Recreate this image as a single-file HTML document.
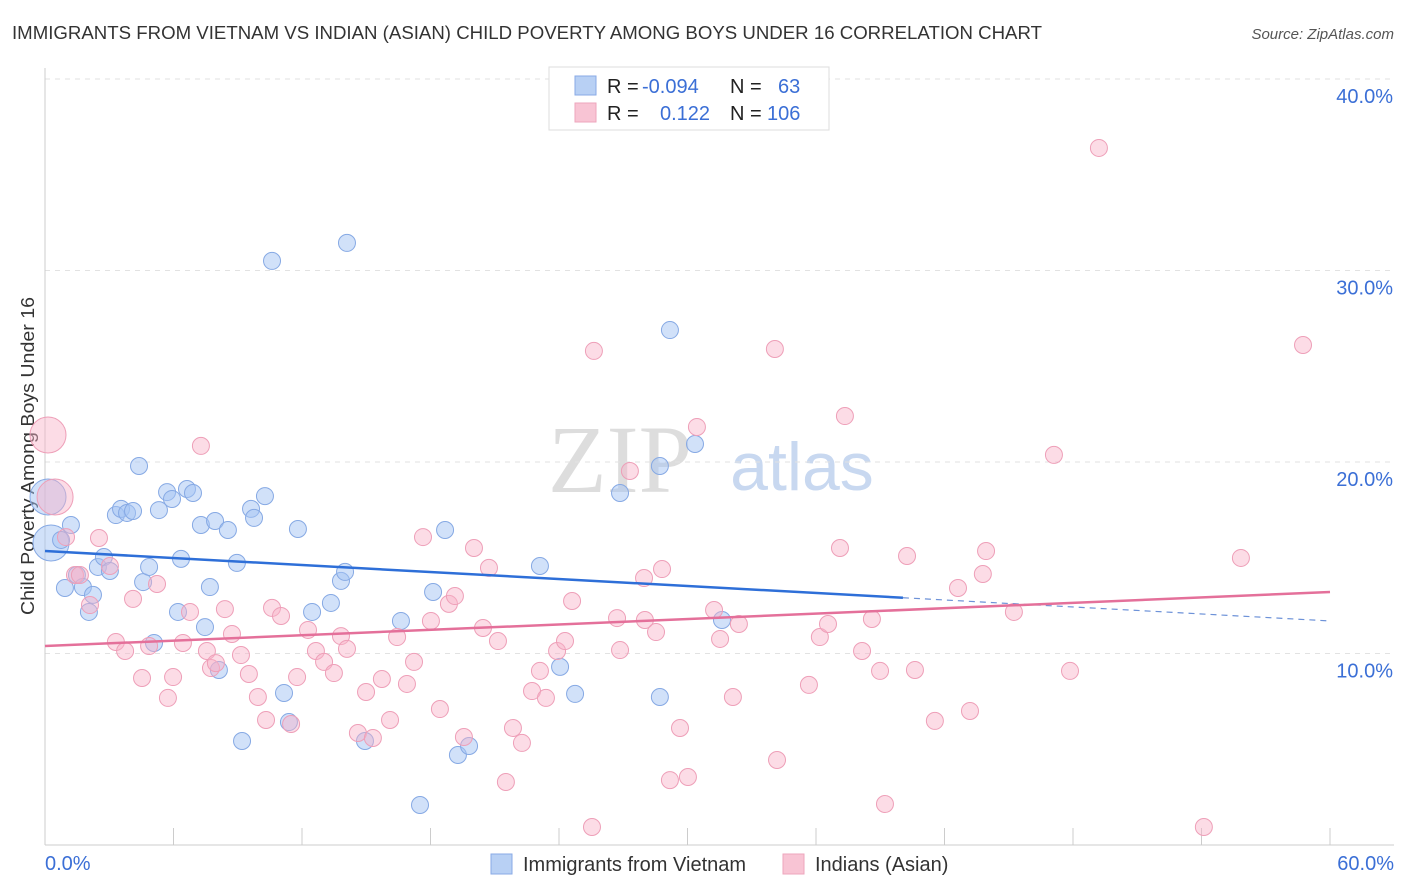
<!DOCTYPE html>
<html><head><meta charset="utf-8"><style>
body{margin:0;background:#fff;font-family:"Liberation Sans",sans-serif;}
#wrap{position:relative;width:1406px;height:892px;overflow:hidden;}
</style></head><body>
<div id="wrap">
<svg id="svg" width="1406" height="892">
<text x="12" y="39" font-size="18" fill="#333" textLength="1030" lengthAdjust="spacingAndGlyphs">IMMIGRANTS FROM VIETNAM VS INDIAN (ASIAN) CHILD POVERTY AMONG BOYS UNDER 16 CORRELATION CHART</text>
<text x="1394" y="39" font-size="15" fill="#555" font-style="italic" text-anchor="end">Source: ZipAtlas.com</text>
<text x="620" y="492" font-size="96" fill="#ddd" font-family="Liberation Serif,serif" text-anchor="middle">ZIP</text>
<text x="802" y="490" font-size="68" fill="#c8d8f0" text-anchor="middle">atlas</text>
<text transform="translate(34,615) rotate(-90)" font-size="18" fill="#333" textLength="318" lengthAdjust="spacingAndGlyphs">Child Poverty Among Boys Under 16</text>
<g id="grid"></g><g id="pts"></g><g id="lines"></g>
<g>
<rect x="549" y="67" width="280" height="63" fill="#fff" stroke="#ddd"/>
<rect x="575" y="76" width="21" height="19" fill="#b8d0f4" stroke="#88aae6"/>
<rect x="575" y="103" width="21" height="19" fill="#f8c4d4" stroke="#eea6bc"/>
<text x="607" y="93" font-size="20" fill="#222">R = <tspan x="642" fill="#3b6fd6">-0.094</tspan></text>
<text x="730" y="93" font-size="20" fill="#222">N = <tspan x="778" fill="#3b6fd6">63</tspan></text>
<text x="607" y="120" font-size="20" fill="#222">R = <tspan x="660" fill="#3b6fd6">0.122</tspan></text>
<text x="730" y="120" font-size="20" fill="#222">N = <tspan x="767" fill="#3b6fd6">106</tspan></text>
</g>
<g>
<rect x="491" y="854" width="21" height="20" fill="#b8d0f4" stroke="#88aae6"/>
<text x="523" y="871" font-size="20" fill="#333">Immigrants from Vietnam</text>
<rect x="783" y="854" width="21" height="20" fill="#f8c4d4" stroke="#eea6bc"/>
<text x="815" y="871" font-size="20" fill="#333">Indians (Asian)</text>
</g>
</svg></div>
<script>
const blueX=[0.28,0.14,0.75,1.21,0.93,1.49,1.77,2.05,2.24,2.47,2.75,3.03,3.31,3.55,3.83,4.11,4.39,4.58,4.86,5.09,5.32,5.70,5.93,6.21,6.35,6.63,6.91,7.28,7.47,7.70,7.94,8.12,8.54,8.96,9.20,9.62,9.76,10.27,10.60,11.16,11.39,11.81,12.47,13.35,13.82,14.01,14.10,14.94,16.62,17.51,18.12,18.68,19.28,19.80,23.11,24.05,24.75,26.85,28.71,28.71,29.18,30.35,31.61];
const blueY=[15.77,18.17,15.93,16.71,13.42,14.10,13.47,12.17,13.06,14.52,15.04,14.31,17.23,17.55,17.34,17.44,19.79,13.73,14.52,10.55,17.49,18.43,18.07,12.17,14.94,18.59,18.38,16.71,11.38,13.47,16.92,9.14,16.45,14.73,5.43,17.55,17.08,18.22,30.50,7.94,6.42,16.50,12.17,12.64,13.79,14.26,31.44,5.43,11.70,2.09,13.21,16.45,4.70,5.17,14.57,9.30,7.89,18.38,7.73,19.79,26.89,20.94,11.75];
const pinkX=[0.14,0.47,0.98,1.40,1.63,2.10,2.52,3.03,3.31,3.74,4.11,4.53,4.86,5.23,5.74,5.98,6.44,6.77,7.28,7.56,7.75,7.98,8.40,8.73,9.15,9.52,9.94,10.32,10.60,11.02,11.49,11.77,12.28,12.65,13.03,13.49,13.82,14.10,14.61,14.99,15.31,15.73,16.11,16.44,16.90,17.23,17.65,18.02,18.44,18.86,19.14,19.56,20.03,20.45,20.73,21.15,21.52,21.85,22.27,22.74,23.11,23.39,23.91,24.28,24.61,25.54,25.63,26.71,26.85,27.31,27.97,28.01,28.53,28.81,29.18,29.65,30.02,30.44,31.24,31.52,32.12,32.40,34.08,34.18,35.67,36.18,36.56,37.12,37.35,38.15,38.61,38.99,39.22,40.25,40.62,41.55,42.63,43.19,43.79,43.94,45.24,47.11,47.86,49.21,54.11,55.84,58.74];
const pinkY=[21.41,18.17,16.08,14.10,14.10,12.53,16.03,14.57,10.60,10.13,12.85,8.72,10.39,13.63,7.68,8.77,10.55,12.17,20.84,10.13,9.24,9.50,12.32,11.02,9.92,8.93,7.73,6.53,12.38,11.96,6.32,8.77,11.23,10.13,9.56,8.98,10.91,10.24,5.85,7.99,5.59,8.67,6.53,10.86,8.41,9.56,16.08,11.70,7.10,12.59,13.00,5.64,15.51,11.33,14.47,10.65,3.29,6.11,5.33,8.04,9.09,7.68,10.13,10.65,12.74,0.94,25.80,11.85,10.18,19.53,13.94,11.75,11.12,14.41,3.39,6.11,3.55,21.83,12.27,10.76,7.73,11.54,25.90,4.44,8.36,10.86,11.54,15.51,22.40,10.13,11.80,9.09,2.14,15.09,9.14,6.48,13.42,7.00,14.15,15.35,12.17,20.37,9.09,36.40,0.94,14.99,26.11];
const yTicks=[10,20,30,40];
const xTicks=[0,6,12,18,24,30,36,42,48,54,60];
const trendBlue=[15.35,11.70,40.06];
const trendPink=[10.39,13.21];
const NS='http://www.w3.org/2000/svg';
const X=v=>45+v/60*1285, Y=v=>845-v/10*191.5;
function mk(t,a,p){const e=document.createElementNS(NS,t);for(const k in a)e.setAttribute(k,a[k]);p.appendChild(e);return e;}
const grid=document.getElementById('grid'),pts=document.getElementById('pts'),lines=document.getElementById('lines');
yTicks.forEach(t=>{const l=mk('line',{x1:45,x2:1394,y1:Y(t),y2:Y(t),stroke:'#e2e2e2','stroke-dasharray':'5,5'},grid);


const tx=mk('text',{x:1393,y:Y(t)+24,'font-size':20,fill:'#3b6fd6','text-anchor':'end'},grid);tx.textContent=t.toFixed(1)+'%';

});
mk('line',{x1:45,x2:45,y1:68,y2:845,stroke:'#ccc'},grid);
mk('line',{x1:45,x2:1394,y1:845,y2:845,stroke:'#ccc'},grid);
xTicks.forEach(t=>{const l=mk('line',{x1:X(t),x2:X(t),y1:828,y2:845,stroke:'#ccc'},grid);

});
[[0,45,'start'],[60,1394,'end']].forEach(([v,x,a])=>{const tx=mk('text',{x:x,y:870,'font-size':20,fill:'#3b6fd6','text-anchor':a},grid);tx.textContent=v.toFixed(1)+'%';

});
function dots(xs,ys,fill,stroke,name,bigIdx){xs.forEach((x,i)=>{const r=bigIdx.includes(i)?18:8.5;
const c=mk('circle',{cx:X(x),cy:Y(ys[i]),r:r,fill:fill,stroke:stroke,'stroke-width':1},pts);

});}
dots(blueX,blueY,'rgba(164,196,244,0.5)','#86a9e4','vietnam-point',[0,1]);
dots(pinkX,pinkY,'rgba(248,178,200,0.45)','#ee9fb8','indian-asian-point',[0,1]);
const by=x=>trendBlue[0]+(trendBlue[1]-trendBlue[0])*x/60;
const b1=mk('line',{x1:X(0),y1:Y(by(0)),x2:X(trendBlue[2]),y2:Y(by(trendBlue[2])),stroke:'#2e6fd8','stroke-width':2.5},lines);


const b2=mk('line',{x1:X(trendBlue[2]),y1:Y(by(trendBlue[2])),x2:X(60),y2:Y(by(60)),stroke:'#6d92d8','stroke-width':1.2,'stroke-dasharray':'6,5'},lines);


const p1=mk('line',{x1:X(0),y1:Y(trendPink[0]),x2:X(60),y2:Y(trendPink[1]),stroke:'#e4709a','stroke-width':2.5},lines);


</script>
</body></html>
